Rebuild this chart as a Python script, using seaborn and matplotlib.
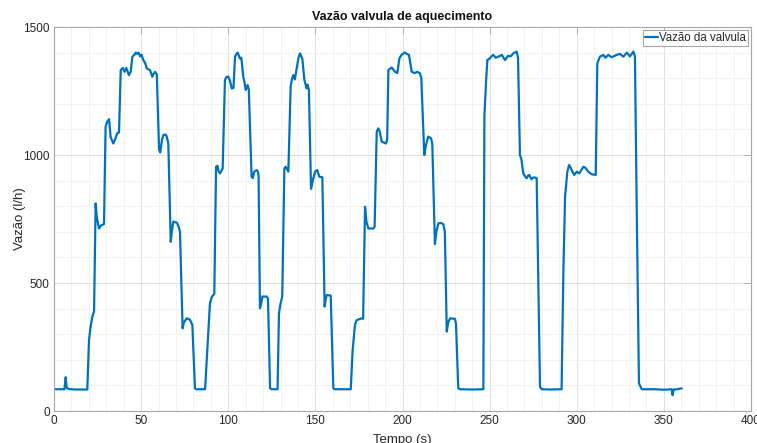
import numpy as np
import pandas as pd
import matplotlib
matplotlib.use("Agg")
import matplotlib.pyplot as plt
import seaborn as sns
from matplotlib.ticker import MultipleLocator

# ---- data ----
tempo = [0, 6.0, 6.7, 7.3, 8.5, 12, 16, 19.1, 20.1, 21, 22, 23, 23.9, 24.5, 25.8, 27, 28.7,
         29.6, 30.5, 31.6, 32.5, 34, 35, 36.3, 37.3, 38.3, 39.5, 40.5, 41.5, 43, 44, 45, 46.2,
         46.9, 47.5, 48.5, 49.4, 50.2, 51.3, 52.3, 53.2, 54, 55.1, 56.4, 57, 58, 59, 60.3, 61,
         62, 62.8, 64, 64.7, 65.6, 67, 67.6, 68.5, 70.6, 71.5, 72.3, 73.8, 74.5, 76.1, 78, 79.4,
         80.9, 81.5, 86.7, 88.6, 89.5, 90.5, 91.4, 92, 93, 93.8, 94.5, 95.3, 96.2, 96.8, 98.1,
         99, 100, 101, 102, 103, 103.9, 104.7, 105.4, 106.7, 107.5, 108.6, 109.3, 110, 111.1,
         111.8, 113.4, 114.1, 114.9, 116.3, 117, 117.4, 118.2, 118.9, 119.6, 122, 122.8, 124,
         124.8, 128.3, 129.1, 130, 131, 132.2, 133, 134.5, 135.8, 136.5, 137.3, 138.2, 139.3,
         140.3, 141.2, 142.5, 143.2, 143.7, 145, 145.5, 146.3, 147.5, 148.5, 149.8, 151.1,
         152.3, 154, 155.3, 156, 156.5, 158.8, 160.3, 161, 170.3, 171.4, 172.7, 173.7, 176.5,
         177.4, 178.5, 179.3, 180.4, 183.3, 184, 185.2, 186.1, 187, 188.1, 190.5, 191.2, 191.9,
         193.8, 195.7, 197, 198.2, 199.5, 201.4, 202.5, 203.7, 205.3, 207, 208.5, 210, 210.8,
         212.5, 213.5, 214.8, 216.4, 217.1, 218.6, 219.4, 220.6, 222, 223.4, 224.3, 225.4,
         226.2, 227.3, 230.1, 230.7, 232, 233, 240, 246.4, 247, 247.9, 248.7, 250.2, 251, 252.1,
         253.5, 255, 257, 258.8, 260.7, 262, 263.6, 265.5, 266.3, 267.4, 268.2, 269.3, 270.5,
         271.3, 272, 272.8, 274, 275, 276, 277, 278.9, 279.8, 285, 291.3, 292.3, 293.3, 294.6,
         295.6, 296.5, 297.1, 298.6, 300, 301.4, 303.8, 305, 306.6, 308.5, 310.9, 311.8, 313.3,
         315.2, 316.5, 318.1, 320, 322.9, 324.8, 326.8, 328.7, 330.5, 332.5, 333.4, 334.4,
         335.7, 337.3, 345, 350, 354.5, 355, 355.6, 358, 359.5, 360.3]
vazao = [85, 85, 132, 90, 86, 84, 84, 84, 277, 330, 368, 390, 811, 760, 713, 725, 730,
         1110, 1130, 1140, 1070, 1045, 1060, 1085, 1088, 1332, 1340, 1325, 1340, 1312, 1325, 1384, 1392,
         1400, 1395, 1400, 1385, 1392, 1370, 1360, 1339, 1335, 1332, 1306, 1315, 1325, 1315, 1020, 1010,
         1060, 1078, 1080, 1072, 1045, 661, 700, 740, 735, 720, 700, 323, 345, 362, 357, 336,
         89, 85, 85, 316, 421, 445, 453, 458, 954, 958, 935, 928, 940, 948, 1293,
         1305, 1306, 1290, 1260, 1262, 1384, 1395, 1400, 1377, 1380, 1306, 1285, 1254, 1273,
         1255, 915, 910, 935, 941, 935, 920, 401, 420, 447, 447, 440, 89,
         85, 85, 381, 420, 447, 948, 954, 935, 1267, 1295, 1312, 1295, 1339,
         1380, 1397, 1377, 1330, 1293, 1260, 1275, 1254, 868, 900, 935, 941,
         915, 913, 408, 440, 453, 451, 89, 85, 85, 238, 336, 355, 362,
         360, 798, 740, 713, 713, 720, 1091, 1104, 1090, 1052, 1045, 1060, 1332,
         1342, 1325, 1320, 1377, 1392, 1400, 1395, 1391, 1325, 1320, 1325, 1319, 1300,
         1000, 1040, 1072, 1065, 1043, 652, 700, 733, 735, 730, 700, 310,
         345, 362, 360, 340, 89, 85, 84, 85, 1150, 1280, 1371, 1378, 1385, 1391,
         1380, 1384, 1391, 1371, 1388, 1385, 1397, 1404, 1380, 1000, 985, 928, 915,
         909, 920, 922, 905, 912, 912, 910, 95, 85, 84, 85, 538, 837, 935,
         961, 950, 941, 922, 935, 928, 954, 950, 935, 925, 922, 1358, 1384,
         1391, 1380, 1391, 1382, 1391, 1395, 1384, 1400, 1385, 1404, 1385, 798,
         108, 85, 85, 83, 85, 62, 84, 85, 88, 88]
serie = "Vazão da valvula"
titulo = "Vazão valvula de aquecimento"
x_rotulo = "Tempo (s)"
y_rotulo = "Vazão (l/h)"
x_ticks = [0, 50, 100, 150, 200, 250, 300, 350, 400]
y_ticks = [0, 500, 1000, 1500]

# ---- styling ----
sns.set_style("white")
plt.rcParams['font.family'] = ['Liberation Sans', 'DejaVu Sans']
plt.rcParams['font.size'] = 8.5

W, H = 757, 443
fig = plt.figure(figsize=(W / 100, H / 100), dpi=100)
ax = fig.add_axes([54 / W, 1 - 411 / H, 697 / W, 384 / H])

df = pd.DataFrame({"Tempo": tempo, "Vazao": vazao, "Serie": serie})
sns.lineplot(data=df, x="Tempo", y="Vazao", hue="Serie", palette=["#0072BD"],
             sort=False, estimator=None, linewidth=1.6, ax=ax)

ax.set_xlim(x_ticks[0], x_ticks[-1])
ax.set_ylim(y_ticks[0], y_ticks[-1])
ax.set_xticks(x_ticks)
ax.set_yticks(y_ticks)
ax.xaxis.set_minor_locator(MultipleLocator(10))
ax.yaxis.set_minor_locator(MultipleLocator(100))
ax.set_axisbelow(True)
ax.grid(which='major', color='#dcdcdc', linewidth=0.6)
ax.grid(which='minor', color='#f1f1f1', linewidth=0.6)

spine_c = '#a6a6a6'
for s in ax.spines.values():
    s.set_visible(True)
    s.set_color(spine_c)
    s.set_linewidth(0.8)
ax.tick_params(which='major', direction='in', length=5, width=0.6, color=spine_c,
               top=True, right=True, labelcolor='#262626', labelsize=8.5, pad=3)
ax.tick_params(which='minor', length=0, top=True, right=True)

ax.set_title(titulo, fontweight='bold', fontsize=9, color='#111111', pad=5)
ax.set_xlabel(x_rotulo, fontsize=9.5, color='#262626')
ax.set_ylabel(y_rotulo, fontsize=9.5, color='#262626')
ax.xaxis.set_label_coords(0.5, -0.060)
ax.yaxis.set_label_coords(-0.040, 0.5)

leg = ax.legend(loc='upper right', frameon=True, fancybox=False, framealpha=1,
                edgecolor='#a6a6a6', fontsize=8.3, handlelength=1.1, handletextpad=0.1,
                borderpad=0.15, borderaxespad=0.3)
leg.get_frame().set_linewidth(0.8)
for t in leg.get_texts():
    t.set_color('#262626')

fig.savefig("out.png", dpi=100)
